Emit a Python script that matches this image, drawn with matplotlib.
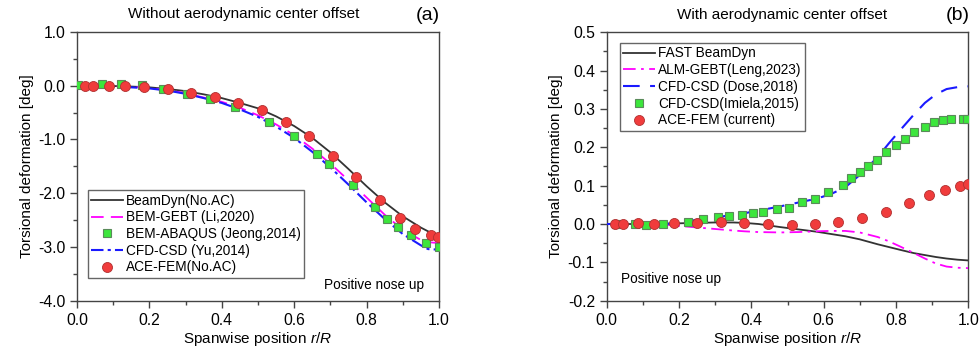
import numpy as np
import matplotlib
matplotlib.use("Agg")
import matplotlib.pyplot as plt
from matplotlib.ticker import MultipleLocator

plt.rcParams['font.family'] = ['Liberation Sans', 'DejaVu Sans']
plt.rcParams['mathtext.fontset'] = 'custom'
plt.rcParams['mathtext.it'] = 'Liberation Sans:italic'
plt.rcParams['mathtext.rm'] = 'Liberation Sans'

# ---- panel (a): without aerodynamic center offset ----
x_line_a = [0.0, 0.05, 0.1, 0.15, 0.2, 0.25, 0.3, 0.35, 0.4, 0.45, 0.5,
            0.55, 0.6, 0.65, 0.7, 0.75, 0.8, 0.85, 0.9, 0.95, 0.97, 1.0]
beamdyn_a = [0.0, 0.0, -0.005, -0.015, -0.03, -0.06, -0.1, -0.16, -0.23, -0.32, -0.42,
             -0.57, -0.75, -0.97, -1.24, -1.55, -1.87, -2.17, -2.43, -2.64, -2.71, -2.8]
gebt_a = [0.0, 0.0, -0.005, -0.02, -0.04, -0.08, -0.14, -0.22, -0.3, -0.41, -0.55,
          -0.72, -0.92, -1.17, -1.45, -1.76, -2.08, -2.4, -2.68, -2.87, -2.91, -2.93]
yu_a = [0.0, -0.005, -0.01, -0.03, -0.05, -0.09, -0.15, -0.23, -0.32, -0.44, -0.58,
        -0.76, -0.97, -1.23, -1.52, -1.84, -2.17, -2.48, -2.76, -2.97, -3.04, -3.05]

x_abaqus = [0.004, 0.068, 0.121, 0.179, 0.238, 0.303, 0.367, 0.436, 0.53, 0.599,
            0.663, 0.697, 0.763, 0.823, 0.856, 0.888, 0.924, 0.963, 1.0]
abaqus = [0.01, 0.025, 0.04, 0.01, -0.065, -0.16, -0.253, -0.39, -0.67, -0.936,
          -1.277, -1.463, -1.84, -2.25, -2.486, -2.63, -2.78, -2.93, -3.01]

x_ace_a = [0.022, 0.045, 0.088, 0.133, 0.185, 0.252, 0.316, 0.381, 0.446, 0.512,
           0.576, 0.642, 0.708, 0.771, 0.837, 0.892, 0.935, 0.978, 0.998]
ace_a = [0.0, 0.0, 0.0, -0.006, -0.02, -0.068, -0.13, -0.205, -0.316, -0.45,
         -0.676, -0.937, -1.30, -1.69, -2.12, -2.46, -2.66, -2.77, -2.82]

# ---- panel (b): with aerodynamic center offset ----
x_line_b = [0.0, 0.1, 0.166, 0.25, 0.3, 0.35, 0.38, 0.42, 0.48, 0.53, 0.58, 0.62,
            0.66, 0.7, 0.75, 0.78, 0.81, 0.85, 0.88, 0.91, 0.94, 0.97, 1.0]
fast_b = [0.0, 0.0, 0.001, 0.003, 0.004, 0.004, 0.003, 0.0, -0.008, -0.014, -0.02, -0.026,
          -0.032, -0.04, -0.053, -0.06, -0.067, -0.076, -0.081, -0.086, -0.09, -0.093, -0.095]
alm_b = [0.0, 0.0, -0.002, -0.009, -0.013, -0.017, -0.019, -0.021, -0.022, -0.021, -0.019, -0.018,
         -0.018, -0.022, -0.034, -0.045, -0.058, -0.076, -0.09, -0.103, -0.111, -0.114, -0.115]
dose_b = [0.0, 0.0, 0.0, 0.011, 0.017, 0.024, 0.028, 0.035, 0.046, 0.056, 0.066, 0.078,
          0.096, 0.128, 0.175, 0.21, 0.243, 0.286, 0.316, 0.338, 0.352, 0.357, 0.359]

x_imiela = [0.025, 0.078, 0.11, 0.155, 0.226, 0.267, 0.309, 0.339, 0.373, 0.405, 0.433,
            0.472, 0.503, 0.541, 0.576, 0.613, 0.654, 0.676, 0.7, 0.724, 0.748, 0.772,
            0.8, 0.824, 0.85, 0.88, 0.904, 0.929, 0.953, 0.984, 0.997]
imiela = [0.0, 0.0, -0.002, 0.0, 0.005, 0.013, 0.017, 0.02, 0.023, 0.028, 0.031,
          0.039, 0.041, 0.058, 0.065, 0.083, 0.103, 0.12, 0.136, 0.152, 0.168, 0.189,
          0.207, 0.223, 0.241, 0.254, 0.266, 0.272, 0.274, 0.274, 0.274]

x_ace_b = [0.023, 0.044, 0.087, 0.131, 0.186, 0.251, 0.316, 0.381, 0.446, 0.512,
           0.576, 0.64, 0.707, 0.772, 0.837, 0.891, 0.935, 0.978, 0.998]
ace_b = [0.0, 0.0, 0.002, 0.0, 0.002, 0.002, 0.004, 0.002, 0.0, -0.002,
         0.0, 0.004, 0.016, 0.032, 0.054, 0.075, 0.088, 0.099, 0.105]

red = '#f03c3c'
green = '#3ce63c'
spine_c = '#444444'

fig = plt.figure(figsize=(9.8, 3.58), dpi=100)
ax1 = fig.add_axes([77/980, 1-300.7/358, 362/980, 268.7/358])
ax2 = fig.add_axes([606.7/980, 1-300.7/358, 361.6/980, 268.4/358])


def style(ax):
    for s in ax.spines.values():
        s.set_color(spine_c)
        s.set_linewidth(1.0)
    ax.tick_params(which='both', direction='out', top=False, right=False,
                   color=spine_c, labelsize=11.3)
    ax.tick_params(which='major', length=5, width=1.0)
    ax.tick_params(which='minor', length=3, width=1.0)
    ax.set_xlim(0, 1)
    ax.xaxis.set_major_locator(MultipleLocator(0.2))
    ax.xaxis.set_minor_locator(MultipleLocator(0.1))
    ax.xaxis.set_major_formatter(matplotlib.ticker.FormatStrFormatter('%.1f'))
    ax.set_xlabel(r'Spanwise position $\mathit{r/R}$', fontsize=11, labelpad=2)
    ax.set_ylabel('Torsional deformation [deg]', fontsize=11, labelpad=3)


leg_kw = dict(fontsize=9.8, frameon=True, fancybox=False, edgecolor='#666666',
              framealpha=1, handlelength=2.35, handletextpad=0.2,
              labelspacing=0.2, borderpad=0.25, borderaxespad=0)

# panel (a)
ax1.plot(x_line_a, beamdyn_a, color='#333333', lw=1.3, label='BeamDyn(No.AC)', zorder=3)
ax1.plot(x_line_a, gebt_a, color='#ff00ff', lw=1.3, dashes=(7, 4), label='BEM-GEBT (Li,2020)', zorder=3)
ax1.plot(x_abaqus, abaqus, ls='none', marker='s', ms=6, mfc=green, mec='#5a8a5a', mew=0.8,
         label='BEM-ABAQUS (Jeong,2014)', zorder=4)
ax1.plot(x_line_a, yu_a, color='#1a1aff', lw=1.5, dashes=(6, 2, 1.5, 2), label='CFD-CSD (Yu,2014)', zorder=3)
ax1.plot(x_ace_a, ace_a, ls='none', marker='o', ms=7.2, mfc=red, mec='#b03030', mew=0.6,
         label='ACE-FEM(No.AC)', zorder=5)
style(ax1)
ax1.set_ylim(-4.0, 1.0)
ax1.yaxis.set_major_locator(MultipleLocator(1.0))
ax1.yaxis.set_minor_locator(MultipleLocator(0.5))
ax1.yaxis.set_major_formatter(matplotlib.ticker.FormatStrFormatter('%.1f'))
leg = ax1.legend(loc='lower left', bbox_to_anchor=(0.03, 0.085), **leg_kw)
leg.get_frame().set_linewidth(1.0)
ax1.text(0.96, 0.06, 'Positive nose up', transform=ax1.transAxes, ha='right', va='center', fontsize=9.8)
ax1.text(0.461, 1.04, 'Without aerodynamic center offset', transform=ax1.transAxes,
         ha='center', va='bottom', fontsize=11)
ax1.text(0.97, 1.03, '(a)', transform=ax1.transAxes, ha='center', va='bottom', fontsize=14)

# panel (b)
ax2.plot(x_line_b, fast_b, color='#333333', lw=1.3, label='FAST BeamDyn', zorder=3)
ax2.plot(x_line_b, alm_b, color='#ff00ff', lw=1.3, dashes=(7, 3, 1.5, 3), label='ALM-GEBT(Leng,2023)', zorder=3)
ax2.plot(x_line_b, dose_b, color='#1a1aff', lw=1.5, dashes=(8, 5), label='CFD-CSD (Dose,2018)', zorder=3)
ax2.plot(x_imiela, imiela, ls='none', marker='s', ms=6, mfc=green, mec='#5a8a5a', mew=0.8,
         label='CFD-CSD(Imiela,2015)', zorder=4)
ax2.plot(x_ace_b, ace_b, ls='none', marker='o', ms=7.2, mfc=red, mec='#b03030', mew=0.6,
         label='ACE-FEM (current)', zorder=5)
style(ax2)
ax2.set_ylim(-0.2, 0.5)
ax2.yaxis.set_major_locator(MultipleLocator(0.1))
ax2.yaxis.set_minor_locator(MultipleLocator(0.05))
ax2.yaxis.set_major_formatter(matplotlib.ticker.FormatStrFormatter('%.1f'))
leg2 = ax2.legend(loc='upper left', bbox_to_anchor=(0.037, 0.96), **leg_kw)
leg2.get_frame().set_linewidth(1.0)
ax2.text(0.04, 0.08, 'Positive nose up', transform=ax2.transAxes, ha='left', va='center', fontsize=9.8)
ax2.text(0.486, 1.04, 'With aerodynamic center offset', transform=ax2.transAxes,
         ha='center', va='bottom', fontsize=11)
ax2.text(0.97, 1.03, '(b)', transform=ax2.transAxes, ha='center', va='bottom', fontsize=14)

fig.savefig('out.png', dpi=100)
